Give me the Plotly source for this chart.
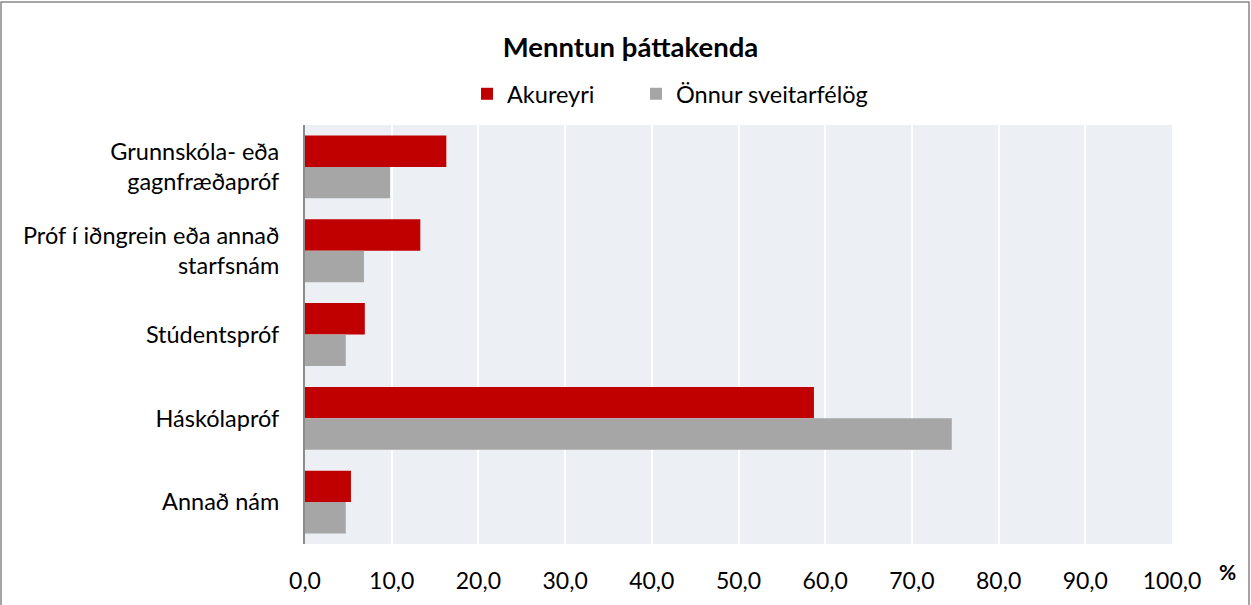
import plotly.graph_objects as go

categories = [
    "Grunnskóla- eða<br>gagnfræðapróf",
    "Próf í iðngrein eða annað<br>starfsnám",
    "Stúdentspróf",
    "Háskólapróf",
    "Annað nám",
]
akureyri = [16.3, 13.3, 6.9, 58.7, 5.3]
onnur = [9.8, 6.8, 4.7, 74.6, 4.7]
series_names = ["Akureyri", "Önnur sveitarfélög"]
title_text = "Menntun þáttakenda"

W, H = 1251, 605
ML, MR, MT, MB = 305, 79, 125, 61
PW = W - ML - MR
PH = H - MT - MB

FONT = "Lato"
FS = 23.5

fig = go.Figure()
fig.add_trace(go.Bar(y=categories, x=akureyri, name=series_names[0], orientation="h",
                     marker=dict(color="#C00000", line=dict(width=0)), legend="legend"))
fig.add_trace(go.Bar(y=categories, x=onnur, name=series_names[1], orientation="h",
                     marker=dict(color="#A6A6A6", line=dict(width=0)), legend="legend2"))

leg_common = dict(orientation="h", xanchor="left", yanchor="middle",
                  y=1 + (MT - 94) / PH,
                  font=dict(family=FONT, size=FS, color="black"),
                  bgcolor="rgba(0,0,0,0)")

fig.update_layout(
    width=W, height=H,
    margin=dict(l=ML, r=MR, t=MT, b=MB),
    paper_bgcolor="white",
    plot_bgcolor="#ECEFF4",
    separators=",.",
    font=dict(family=FONT, size=FS, color="black"),
    barmode="group",
    bargap=0.25,
    bargroupgap=0,
    title=dict(text="<b>" + title_text + "</b>", x=0.504, xanchor="center",
               y=1 - 47.5 / H, yanchor="middle",
               font=dict(family=FONT, size=27.5, color="black")),
    legend=dict(x=(467 - ML) / PW, **leg_common),
    legend2=dict(x=(636 - ML) / PW, **leg_common),
    showlegend=True,
)

fig.update_xaxes(range=[0, 100], dtick=10, tick0=0, tickformat=".1f",
                 showgrid=True, gridcolor="white", gridwidth=2,
                 zeroline=False, showline=False, ticks="",
                 ticklabelstandoff=21,
                 tickfont=dict(family=FONT, size=23, color="black"),
                 fixedrange=True)
fig.update_yaxes(autorange="reversed", showgrid=False, zeroline=False,
                 showline=True, linecolor="#8C8C8C", linewidth=2,
                 ticks="", ticklabelstandoff=19,
                 tickfont=dict(family=FONT, size=FS, color="black"),
                 fixedrange=True)

# "%" unit label
fig.add_annotation(text="<b>%</b>", xref="paper", yref="paper",
                   x=(1227 - ML) / PW, y=-(571 - (H - MB)) / PH,
                   xanchor="center", yanchor="middle", showarrow=False,
                   font=dict(family=FONT, size=21, color="black"))

# outer chart border
fig.add_shape(type="rect", xref="paper", yref="paper",
              x0=(1 - ML) / PW, x1=(W - 2 - ML) / PW,
              y0=-(H + 5 - (H - MB)) / PH, y1=((H - MB) - 2) / PH,
              line=dict(color="#888888", width=1.5), fillcolor="rgba(0,0,0,0)",
              layer="below")

fig.write_html("out.html",
               config={"displayModeBar": False},
               post_script="document.body.style.margin='0';document.body.style.overflow='hidden';")
